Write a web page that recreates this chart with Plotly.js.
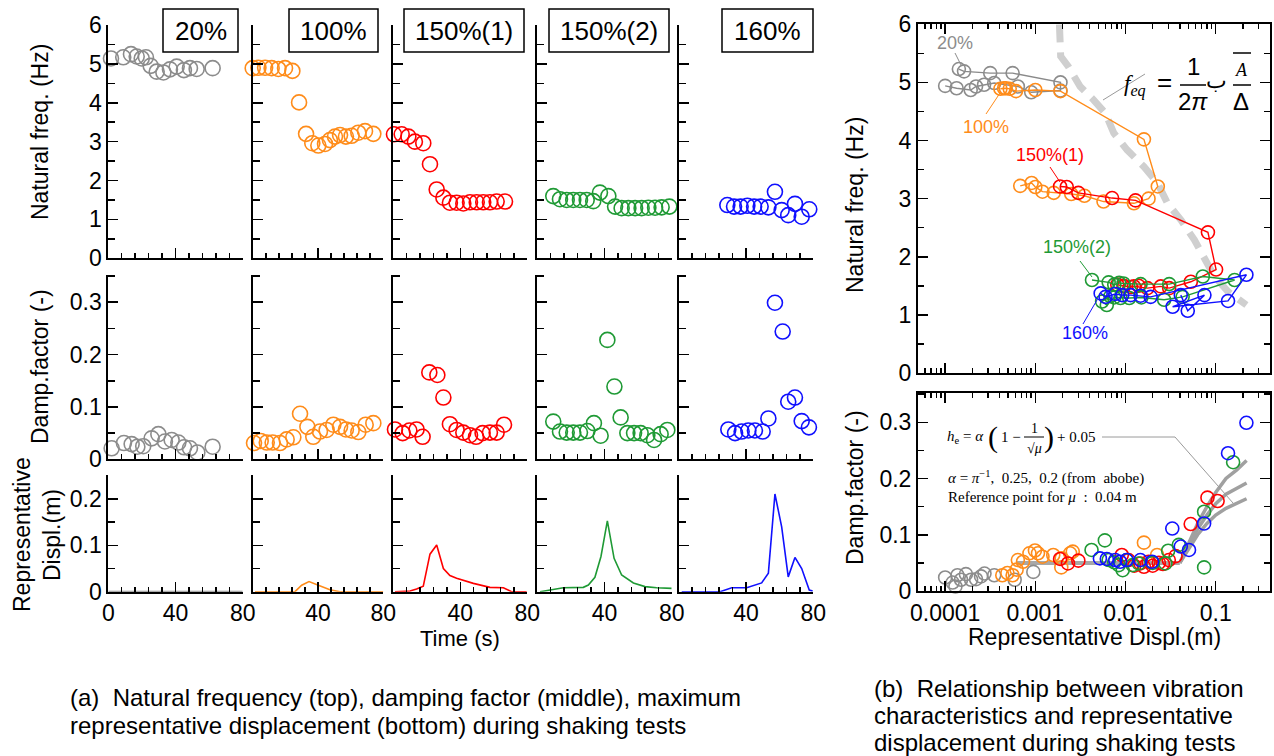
<!DOCTYPE html>
<html><head><meta charset="utf-8">
<script src="https://cdn.plot.ly/plotly-3.0.1.min.js"></script>
<style>body{margin:0;background:#fff}#c{width:1274px;height:756px}</style>
</head><body><div id="c"></div>
<script>
// ---------------- DATA ----------------
// (a) natural frequency vs time
const tF20 = [1.6, 8.9, 13.5, 16.9, 19.9, 22.4, 25.2, 28.8, 32.8, 36.7, 40.7, 45, 48.6, 52.6, 62.1];
const fF20 = [5.14, 5.17, 5.25, 5.19, 5.14, 5.17, 4.95, 4.8, 4.78, 4.86, 4.93, 4.84, 4.89, 4.87, 4.89];
const tF100 = [0, 3.5, 7.6, 11.6, 15.7, 19.8, 24.3, 28.4, 32.7, 36.5, 40.2, 44.3, 47.3, 50.4, 53.5, 57.1, 60.6, 64.7, 68.8, 73.9];
const fF100 = [4.89, 4.9, 4.9, 4.89, 4.87, 4.89, 4.82, 4.01, 3.2, 2.96, 2.9, 2.94, 3.04, 3.13, 3.17, 3.13, 3.15, 3.23, 3.27, 3.2];
const tF150a = [0.4, 5, 9, 12.9, 17.9, 21.9, 25.9, 29.9, 33.8, 37.8, 41.8, 45.8, 49.8, 53.7, 57.7, 61.7, 66.7];
const fF150a = [3.19, 3.19, 3.13, 3.0, 2.96, 2.42, 1.77, 1.56, 1.43, 1.43, 1.41, 1.44, 1.44, 1.44, 1.44, 1.46, 1.46];
const tF150b = [9.5, 13.5, 17.5, 21.4, 25.4, 29.4, 33.3, 37.3, 42.3, 46.3, 50.2, 54.2, 58.2, 62.1, 66.1, 70.1, 74, 78.6];
const fF150b = [1.6, 1.52, 1.5, 1.5, 1.5, 1.5, 1.47, 1.69, 1.6, 1.33, 1.29, 1.29, 1.29, 1.29, 1.3, 1.3, 1.31, 1.33];
const tF160 = [28.9, 32.9, 36.8, 40.8, 44.8, 48.7, 53.3, 57.2, 61.2, 65.1, 69.1, 73.1, 77.6];
const fF160 = [1.37, 1.33, 1.33, 1.35, 1.33, 1.33, 1.31, 1.71, 1.24, 1.11, 1.40, 1.07, 1.26];
// (a) damping factor vs time
const tD20 = [2, 9.3, 13.9, 17.3, 20.8, 25.8, 29.8, 33.7, 37.7, 41.7, 45.1, 48.6, 53, 62.1];
const hD20 = [0.021, 0.031, 0.029, 0.024, 0.025, 0.040, 0.048, 0.034, 0.037, 0.032, 0.023, 0.021, 0.013, 0.024];
const tD100 = [0.8, 4.9, 8.6, 12.2, 16.7, 20.8, 24.9, 29, 33.5, 37.1, 41.2, 45.3, 49.4, 53.5, 57.1, 60.6, 64.7, 69.2, 73.9];
const hD100 = [0.031, 0.035, 0.032, 0.032, 0.031, 0.038, 0.042, 0.087, 0.062, 0.043, 0.053, 0.056, 0.066, 0.062, 0.057, 0.055, 0.052, 0.066, 0.069];
const tD150a = [1, 5.6, 9.6, 13.9, 17.5, 21.5, 26.3, 29.9, 33.8, 37.8, 41.8, 45.8, 49.4, 53.3, 57.7, 61.7, 66.1];
const hD150a = [0.057, 0.050, 0.055, 0.057, 0.043, 0.166, 0.161, 0.118, 0.067, 0.056, 0.051, 0.046, 0.043, 0.050, 0.051, 0.051, 0.066];
const tD150b = [9.5, 13.5, 17.5, 21.4, 25.4, 29.8, 33.7, 37.7, 41.7, 45.9, 49.6, 53.6, 57.6, 61.5, 65.5, 69.5, 73.4, 77.4];
const hD150b = [0.072, 0.053, 0.051, 0.051, 0.051, 0.054, 0.069, 0.045, 0.228, 0.139, 0.080, 0.050, 0.050, 0.050, 0.046, 0.037, 0.048, 0.056];
const tD160 = [29.5, 33.5, 37.4, 41.4, 45.3, 49.9, 53.3, 57.2, 61.8, 65.1, 69.1, 73.1, 77.4];
const hD160 = [0.057, 0.050, 0.053, 0.055, 0.055, 0.053, 0.078, 0.299, 0.244, 0.110, 0.118, 0.073, 0.061];
// (a) representative displacement vs time
const tX20 = [0, 10, 20, 30, 40, 50, 60, 70, 80];
const dX20 = [0.0005, 0.0005, 0.0005, 0.001, 0.0005, 0.0005, 0.0005, 0.0005, 0.0005];
const tX100 = [1.4, 25.9, 30, 34.5, 40.2, 47.3, 53.5, 80];
const dX100 = [0, 0, 0.014, 0.022, 0.014, 0.004, 0, 0];
const tX150a = [1, 10, 13.9, 17.9, 21.9, 25.9, 29.9, 33.8, 37.8, 47.8, 57.7, 65.7, 70.6, 79.6];
const dX150a = [0, 0.0014, 0.0058, 0.012, 0.081, 0.101, 0.050, 0.035, 0.029, 0.018, 0.0094, 0.0086, 0, 0];
const tX150b = [1.6, 7.5, 15.5, 27.4, 30.4, 34.3, 37.9, 41.7, 45.7, 50.2, 57.2, 64.1, 71.1, 80];
const dX150b = [0, 0.0036, 0.0086, 0.0094, 0.0144, 0.031, 0.076, 0.153, 0.072, 0.036, 0.019, 0.011, 0.0086, 0.0072];
const tX160 = [1.8, 24.6, 31.5, 40.4, 49.3, 53.3, 57.2, 61.2, 65.1, 69.1, 73.1, 77.6, 79.6];
const dX160 = [0, 0, 0.0086, 0.0086, 0.019, 0.040, 0.211, 0.140, 0.032, 0.074, 0.050, 0.0036, 0.0014];

// (b) natural frequency vs representative displacement
const xR20 = [1.42e-4, 1.62e-4, 3.16e-4, 5.6e-4, 1.9e-3, 1.9e-3, 9.0e-4, 6.4e-4, 3.5e-4, 2.7e-4, 2.2e-4, 1.92e-4, 1.34e-4, 1.0e-4];
const yR20 = [5.23, 5.19, 5.16, 5.16, 5.0, 4.86, 4.83, 4.93, 4.99, 4.96, 4.93, 4.87, 4.9, 4.94];
const xR100 = [4.1e-4, 4.5e-4, 4.7e-4, 5.2e-4, 6.1e-4, 1.0e-3, 1.9e-3, 0.016, 0.0228, 0.018, 0.0124, 0.0057, 0.0035, 0.0025, 0.0016, 0.0012, 0.001, 0.00091, 0.00068];
const yR100 = [4.89, 4.9, 4.9, 4.89, 4.85, 4.87, 4.85, 4.02, 3.21, 3.0, 2.92, 2.95, 3.05, 3.08, 3.1, 3.12, 3.2, 3.27, 3.22];
const xR150a = [1.88e-3, 2.23e-3, 3.0e-3, 7.1e-3, 0.0129, 0.082, 0.101, 0.053, 0.0305, 0.0246, 0.0175, 0.0124, 0.0096, 0.0081, 0.0095, 0.0115, 0.014];
const yR150a = [3.21, 3.2, 3.1, 3.01, 2.97, 2.42, 1.78, 1.57, 1.46, 1.49, 1.46, 1.49, 1.49, 1.52, 1.5, 1.48, 1.5];
const xR150b = [4.25e-3, 6.5e-3, 7.5e-3, 8.5e-3, 9.5e-3, 0.0147, 0.0305, 0.072, 0.162, 0.043, 0.0268, 0.015, 0.011, 0.0088, 0.0075, 0.0062, 0.0055, 0.0068];
const yR150b = [1.6, 1.56, 1.52, 1.55, 1.54, 1.53, 1.53, 1.66, 1.6, 1.31, 1.26, 1.3, 1.29, 1.29, 1.3, 1.17, 1.23, 1.32];
const xR160 = [5.3e-3, 6.0e-3, 7.7e-3, 9.2e-3, 0.0114, 0.0147, 0.019, 0.219, 0.137, 0.0333, 0.075, 0.049, 0.041];
const yR160 = [1.37, 1.31, 1.36, 1.34, 1.34, 1.33, 1.31, 1.69, 1.24, 1.14, 1.34, 1.07, 1.34];
const xEq = [1.85e-3, 1.91e-3, 2.33e-3, 3.14e-3, 4.42e-3, 5.98e-3, 7.4e-3, 0.0104, 0.016, 0.0226, 0.0292, 0.0412, 0.058, 0.078, 0.097, 0.137, 0.219];
const yEq = [6.0, 5.45, 5.27, 4.93, 4.70, 4.47, 4.13, 3.84, 3.55, 3.27, 2.92, 2.63, 2.29, 1.95, 1.66, 1.40, 1.17];

// (b) damping factor vs representative displacement
const xH20 = [1e-4, 1.21e-4, 1.37e-4, 1.5e-4, 1.7e-4, 1.94e-4, 2.2e-4, 2.73e-4, 3.5e-4, 5.9e-4, 9.5e-4, 1.3e-4, 2.5e-4];
const hH20 = [0.024, 0.015, 0.028, 0.02, 0.03, 0.02, 0.021, 0.031, 0.028, 0.02, 0.034, 0.008, 0.026];
const xH100 = [4.3e-4, 4.9e-4, 5.6e-4, 6.4e-4, 7.3e-4, 8.6e-4, 9.9e-4, 1.07e-3, 1.2e-3, 1.58e-3, 1.96e-3, 2.43e-3, 2.6e-3, 0.016, 0.0224, 6.2e-4, 1.94e-3];
const hH100 = [0.028, 0.032, 0.028, 0.055, 0.052, 0.067, 0.072, 0.067, 0.061, 0.064, 0.058, 0.067, 0.07, 0.086, 0.064, 0.038, 0.042];
const xH150a = [1.88e-3, 2.3e-3, 3.0e-3, 9.1e-3, 0.0108, 0.0146, 0.018, 0.0234, 0.0302, 0.0359, 0.0528, 0.081, 0.105, 0.0125, 0.016, 0.02, 0.026];
const hH150a = [0.057, 0.049, 0.054, 0.064, 0.055, 0.049, 0.052, 0.05, 0.055, 0.062, 0.119, 0.166, 0.16, 0.045, 0.043, 0.045, 0.048];
const xH150b = [4.2e-3, 5.9e-3, 6.5e-3, 7.5e-3, 8.4e-3, 9.3e-3, 0.0103, 0.012, 0.014, 0.02, 0.0277, 0.0297, 0.039, 0.0744, 0.0744, 0.156];
const hH150b = [0.073, 0.09, 0.055, 0.051, 0.046, 0.037, 0.055, 0.046, 0.049, 0.05, 0.049, 0.0715, 0.082, 0.141, 0.042, 0.229];
const xH160 = [5.2e-3, 6.2e-3, 7.7e-3, 8.7e-3, 0.0103, 0.0146, 0.0197, 0.033, 0.041, 0.0506, 0.0744, 0.137, 0.219];
const hH160 = [0.058, 0.057, 0.055, 0.052, 0.055, 0.055, 0.052, 0.111, 0.079, 0.073, 0.12, 0.245, 0.299];
const xFlat = [6.2e-4, 0.04];
const hFlat = [0.05, 0.05];
const xCurve = [0.04, 0.05, 0.063, 0.08, 0.1, 0.13, 0.17, 0.22];
const hCurveA = [0.05, 0.085, 0.12, 0.15, 0.175, 0.2, 0.215, 0.232];
const hCurveB = [0.05, 0.08, 0.11, 0.135, 0.155, 0.172, 0.183, 0.192];
const hCurveC = [0.05, 0.075, 0.1, 0.12, 0.135, 0.147, 0.156, 0.164];

const caseLabels = ['20%', '100%', '150%(1)', '150%(2)', '160%'];
const xTickText = ['0.0001', '0.001', '0.01', '0.1'];

// ---------------- STYLE / LAYOUT ----------------
const W = 1274, H = 756;
const GRAY = '#8c8c8c', ORANGE = '#ff8c1a', RED = '#ff0000', GREEN = '#1f9a35', BLUE = '#1010ff';
const COLORS = [GRAY, ORANGE, RED, GREEN, BLUE];
const FONT = 'Liberation Sans, Arial, sans-serif';
const SERIF = 'Liberation Serif, DejaVu Serif, serif';
const TICK = 23;

const colX = [[108.3, 242.7], [252.7, 383.3], [393.3, 527.3], [537.3, 671.7], [678.7, 813.3]];
const rowY = [[25, 258.3], [275, 459.3], [475, 591.7]];
const px = v => v / W, py = v => 1 - v / H;
const sfx = i => (i === 1 ? '' : String(i));

// minor tick positions of the log axes (2..9 in each decade)
const logMinor = [];
for (let e = -5; e <= -1; e++) for (let d = 2; d <= 9; d++) logMinor.push(d * Math.pow(10, e));

const layout = {
  width: W, height: H, margin: {l: 0, r: 0, t: 0, b: 0},
  paper_bgcolor: '#fff', plot_bgcolor: 'rgba(0,0,0,0)',
  showlegend: false, font: {family: FONT, size: 20, color: '#000'},
  annotations: [], shapes: []
};
const traces = [];

const fT = [tF20, tF100, tF150a, tF150b, tF160], fV = [fF20, fF100, fF150a, fF150b, fF160];
const dT = [tD20, tD100, tD150a, tD150b, tD160], dV = [hD20, hD100, hD150a, hD150b, hD160];
const xT = [tX20, tX100, tX150a, tX150b, tX160], xV = [dX20, dX100, dX150a, dX150b, dX160];

const rowCfg = [
  {range: [0, 6], tickvals: [0, 1, 2, 3, 4, 5, 6], ticktext: ['0', '1', '2', '3', '4', '5', '6'], minor: 0.5},
  {range: [0, 0.352], tickvals: [0, 0.1, 0.2, 0.3], ticktext: ['0', '0.1', '0.2', '0.3'], minor: 0.05},
  {range: [0, 0.252], tickvals: [0, 0.1, 0.2], ticktext: ['0', '0.1', '0.2'], minor: 0.05}
];

for (let r = 0; r < 3; r++) {
  for (let c = 0; c < 5; c++) {
    const i = r * 5 + c + 1;
    const s = sfx(i);
    layout['xaxis' + s] = {
      domain: [px(colX[c][0]), px(colX[c][1])], anchor: 'y' + s, range: [0, 80],
      showline: true, linecolor: '#000', linewidth: 2, showgrid: false, zeroline: false,
      ticks: 'inside', ticklen: 10, tickwidth: 1.5, tickcolor: '#000',
      tickmode: 'array', tickvals: c === 0 ? [0, 40, 80] : [40, 80], ticktext: c === 0 ? ['0', '40', '80'] : ['40', '80'],
      showticklabels: r === 2, tickfont: {size: TICK, family: FONT},
      minor: {ticks: 'inside', ticklen: 5, tickwidth: 1.5, tickcolor: '#000', dtick: 8, tick0: 0, showgrid: false}
    };
    const rc = rowCfg[r];
    layout['yaxis' + s] = {
      domain: [py(rowY[r][1]), py(rowY[r][0])], anchor: 'x' + s, range: rc.range,
      showline: true, linecolor: '#000', linewidth: 2, showgrid: false, zeroline: false,
      ticks: 'inside', ticklen: 10, tickwidth: 1.5, tickcolor: '#000',
      tickmode: 'array', tickvals: rc.tickvals, ticktext: rc.ticktext,
      showticklabels: c === 0, tickfont: {size: TICK, family: FONT},
      minor: {ticks: 'inside', ticklen: 7, tickwidth: 1.5, tickcolor: '#000', dtick: rc.minor, tick0: 0, showgrid: false}
    };
    let tr;
    if (r === 0) tr = {x: fT[c], y: fV[c], mode: 'markers'};
    else if (r === 1) tr = {x: dT[c], y: dV[c], mode: 'markers'};
    else tr = {x: xT[c], y: xV[c], mode: 'lines', line: {color: COLORS[c], width: 1.6}};
    tr.type = 'scatter'; tr.xaxis = 'x' + s; tr.yaxis = 'y' + s; tr.cliponaxis = false; tr.hoverinfo = 'skip';
    if (r < 2) tr.marker = {symbol: 'circle-open', size: 15, color: COLORS[c], line: {width: 1.6, color: COLORS[c]}};
    traces.push(tr);
  }
}

// right panel axes
const RX = [918, 1270];
const logRange = [Math.log10(5e-5), Math.log10(0.4)];
function rightX(s, anchor, labels) {
  layout['xaxis' + s] = {
    domain: [px(RX[0]), px(RX[1])], anchor: anchor, type: 'log', range: logRange,
    showline: true, mirror: 'allticks', linecolor: '#000', linewidth: 2, showgrid: false, zeroline: false,
    ticks: 'inside', ticklen: 10, tickwidth: 1.5, tickcolor: '#000',
    tickmode: 'array', tickvals: [1e-4, 1e-3, 1e-2, 1e-1], ticktext: xTickText,
    showticklabels: labels, tickfont: {size: TICK, family: FONT},
    minor: {ticks: 'inside', ticklen: 5, tickwidth: 1.5, tickcolor: '#000', tickmode: 'array', tickvals: logMinor, showgrid: false}
  };
}
rightX('16', 'y16', false);
rightX('17', 'y17', true);
layout.yaxis16 = {
  domain: [py(373), py(24.3)], anchor: 'x16', range: [0, 6],
  showline: true, mirror: 'allticks', linecolor: '#000', linewidth: 2, showgrid: false, zeroline: false,
  ticks: 'inside', ticklen: 10, tickwidth: 1.5, tickcolor: '#000',
  tickmode: 'array', tickvals: [0, 1, 2, 3, 4, 5, 6], ticktext: ['0', '1', '2', '3', '4', '5', '6'],
  tickfont: {size: TICK, family: FONT},
  minor: {ticks: 'inside', ticklen: 6, tickwidth: 1.5, tickcolor: '#000', dtick: 0.5, tick0: 0, showgrid: false}
};
layout.yaxis17 = {
  domain: [py(591), py(393)], anchor: 'x17', range: [0, 0.352],
  showline: true, mirror: 'allticks', linecolor: '#000', linewidth: 2, showgrid: false, zeroline: false,
  ticks: 'inside', ticklen: 10, tickwidth: 1.5, tickcolor: '#000',
  tickmode: 'array', tickvals: [0, 0.1, 0.2, 0.3], ticktext: ['0', '0.1', '0.2', '0.3'],
  tickfont: {size: TICK, family: FONT},
  minor: {ticks: 'inside', ticklen: 6, tickwidth: 1.5, tickcolor: '#000', dtick: 0.05, tick0: 0, showgrid: false}
};

// dashed f_eq curve
traces.push({type: 'scatter', mode: 'lines', x: xEq, y: yEq, xaxis: 'x16', yaxis: 'y16', hoverinfo: 'skip',
  line: {color: '#cfcfcf', width: 7, dash: '18px,10px'}});
const rX = [xR20, xR100, xR150a, xR150b, xR160], rY = [yR20, yR100, yR150a, yR150b, yR160];
const lineCol = ['#8a8a8a', ORANGE, RED, GREEN, BLUE];
for (let c = 0; c < 5; c++) {
  traces.push({type: 'scatter', mode: 'lines+markers', x: rX[c], y: rY[c], xaxis: 'x16', yaxis: 'y16',
    cliponaxis: false, hoverinfo: 'skip', line: {color: lineCol[c], width: 1.4},
    marker: {symbol: 'circle-open', size: 13, color: COLORS[c], line: {width: 1.6, color: COLORS[c]}}});
}
// gray model curves (bottom right)
traces.push({type: 'scatter', mode: 'lines', x: xFlat, y: hFlat, xaxis: 'x17', yaxis: 'y17', hoverinfo: 'skip', line: {color: '#a8a8a8', width: 4}});
[hCurveA, hCurveB, hCurveC].forEach(h => traces.push({type: 'scatter', mode: 'lines', x: xCurve, y: h, xaxis: 'x17', yaxis: 'y17', hoverinfo: 'skip', line: {color: '#a0a0a0', width: 3.5}}));
const hX = [xH20, xH100, xH150a, xH150b, xH160], hY = [hH20, hH100, hH150a, hH150b, hH160];
for (let c = 0; c < 5; c++) {
  traces.push({type: 'scatter', mode: 'markers', x: hX[c], y: hY[c], xaxis: 'x17', yaxis: 'y17',
    cliponaxis: false, hoverinfo: 'skip',
    marker: {symbol: 'circle-open', size: 13, color: COLORS[c], line: {width: 1.6, color: COLORS[c]}}});
}

// ---------------- ANNOTATIONS & SHAPES ----------------
function A(text, x, y, o) {
  o = o || {};
  layout.annotations.push({text: text, x: px(x), y: py(y), xref: 'paper', yref: 'paper', showarrow: false,
    xanchor: o.xa || 'center', yanchor: o.ya || 'middle', textangle: o.angle || 0,
    align: o.align || 'center',
    font: {family: o.family || FONT, size: o.size || 20, color: o.color || '#000'}});
}
function L(x0, y0, x1, y1, col, w) {
  layout.shapes.push({type: 'line', xref: 'paper', yref: 'paper', x0: px(x0), y0: py(y0), x1: px(x1), y1: py(y1),
    line: {color: col || '#000', width: w || 1}});
}
// case boxes
const boxes = [[163, 238], [289, 378], [404, 524], [549, 669], [722, 813]];
boxes.forEach((b, k) => {
  layout.shapes.push({type: 'rect', xref: 'paper', yref: 'paper', x0: px(b[0]), x1: px(b[1]), y0: py(52), y1: py(9),
    fillcolor: '#fff', line: {color: '#000', width: 1.5}, layer: 'above'});
  A(caseLabels[k], (b[0] + b[1]) / 2, 31, {size: 26});
});
// left titles
A('Natural freq. (Hz)', 40, 132, {angle: -90, size: 23});
A('Damp.factor (-)', 40, 367, {angle: -90, size: 23});
A('Representative', 22, 535, {angle: -90, size: 23});
A('Displ.(m)', 52, 535, {angle: -90, size: 23});
A('Time (s)', 460, 638, {size: 22});
// right titles
A('Natural freq. (Hz)', 855, 205, {angle: -90, size: 23});
A('Damp.factor (-)', 855, 488, {angle: -90, size: 23});
A('Representative Displ.(m)', 1094, 637, {size: 23});
// captions
A('(a)  Natural frequency (top), damping factor (middle), maximum', 68, 697, {xa: 'left', size: 24});
A('representative displacement (bottom) during shaking tests', 68, 725, {xa: 'left', size: 24});
A('(b)  Relationship between vibration', 872, 688, {xa: 'left', size: 24});
A('characteristics and representative', 872, 715, {xa: 'left', size: 24});
A('displacement during shaking tests', 872, 742, {xa: 'left', size: 24});
// case labels right panel
A('20%', 955, 43, {size: 18, color: GRAY});
L(955, 53, 961, 65, GRAY, 1);
A('100%', 986, 127, {size: 18, color: ORANGE});
L(986, 114, 1000, 93, ORANGE, 1);
A('150%(1)', 1050, 155, {size: 18, color: RED});
L(1050, 167, 1060, 182, RED, 1);
A('150%(2)', 1077, 247, {size: 18, color: GREEN});
L(1080, 261, 1092, 277, GREEN, 1);
A('160%', 1085, 333, {size: 18, color: BLUE});
L(1083, 324, 1097, 300, BLUE, 1);
// f_eq formula
A('<i>f</i><sub><i>eq</i></sub>', 1135, 86, {size: 23, family: SERIF});
L(1103, 100, 1145, 74, '#9a9a9a', 1);
A('=', 1164, 82, {size: 26});
A('1', 1193, 67, {size: 24});
L(1180, 85, 1206, 85, '#000', 1.5);
A('2<i>π</i>', 1193, 102, {size: 24});
A('ب', 1216, 80, {size: 22});
L(1233, 53, 1251, 53, '#000', 1.5);
A('<i>A</i>', 1241, 70, {size: 18, family: SERIF});
L(1233, 85, 1251, 85, '#000', 1.5);
A('Δ', 1241, 102, {size: 24});
// damping formula
A('<i>h</i><sub>e</sub> = <i>α</i>', 945, 437, {xa: 'left', size: 15, family: SERIF});
A('(', 993, 437, {size: 30, family: SERIF});
A('1 −', 1011, 437, {size: 15, family: SERIF});
A('1', 1034, 428, {size: 14, family: SERIF});
L(1024, 437, 1044, 437, '#000', 1);
A('√<i>μ</i>', 1034, 448, {size: 14, family: SERIF});
A(')', 1049, 437, {size: 30, family: SERIF});
A('+ 0.05', 1055, 437, {xa: 'left', size: 15, family: SERIF});
A('<i>α</i> = <i>π</i><sup>−1</sup>,  0.25,  0.2 (from  abobe)', 946, 477, {xa: 'left', size: 15, family: SERIF});
A('Reference point for <i>μ</i>  :  0.04 m', 946, 497, {xa: 'left', size: 15, family: SERIF});
L(1102, 437, 1175, 437, '#9a9a9a', 1);
L(1175, 437, 1233, 503, '#9a9a9a', 1);

Plotly.newPlot('c', traces, layout, {displayModeBar: false, staticPlot: true});
</script></body></html>
